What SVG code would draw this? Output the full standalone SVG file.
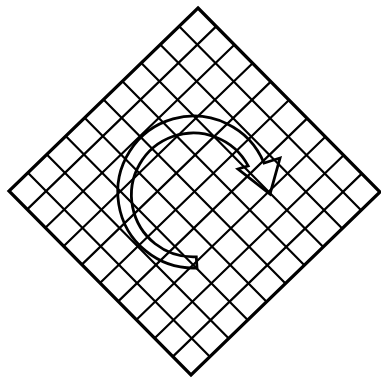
<svg xmlns="http://www.w3.org/2000/svg" width="381" height="378" viewBox="0 0 381 378">
<style>
.grid{stroke:#000;stroke-width:2.2;fill:none}
.border{stroke:#000;stroke-width:3.2;fill:none;stroke-linejoin:miter}
.arrow{stroke:#000;stroke-width:2.8;fill:none;stroke-linejoin:miter}
</style>
<rect width="381" height="378" fill="#fff"/>
<g id="grid">
<path class="grid" d="M179.1,26.3L361.1,210.3M160.2,44.6L342.2,228.6M141.3,62.9L323.3,246.9M122.4,81.2L304.4,265.2M103.5,99.5L285.5,283.5M84.6,117.8L266.6,301.8M65.7,136.1L247.7,320.1M46.8,154.4L228.8,338.4M27.9,172.7L209.9,356.7"/>
<path class="grid" d="M216.2,26.4L27.2,209.4M234.4,44.8L45.4,227.8M252.6,63.2L63.6,246.2M270.8,81.6L81.8,264.6M289,100L100,283M307.2,118.4L118.2,301.4M325.4,136.8L136.4,319.8M343.6,155.2L154.6,338.2M361.8,173.6L172.8,356.6"/>
<polygon class="border" points="198,8 380,192 191,375 9,191"/>
</g>
<g id="rotation-arrow">
<path class="arrow" d="M197,268 A76 76 0 1 1 264,163 L280,158 L270,194 L238,169 L248.2,165.9 A62 62 0 1 0 196.3,256.9 Z"/>
</g>
</svg>
